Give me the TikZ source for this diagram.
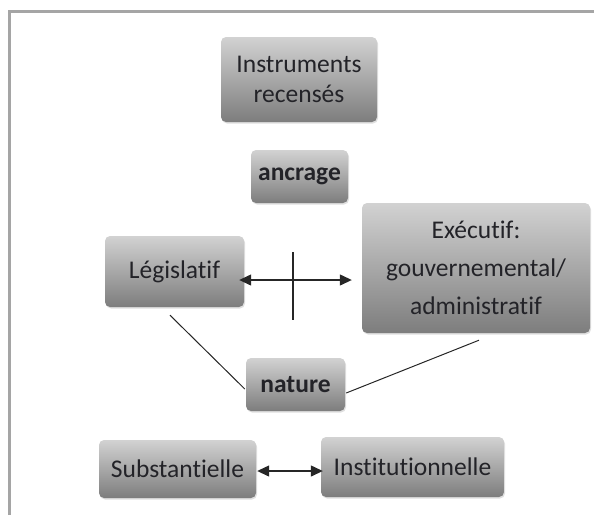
\documentclass[tikz,border=0pt]{standalone}
\usepackage{fontspec}
\setmainfont{Carlito}[RawFeature={-liga}]
\usetikzlibrary{arrows.meta,calc,shadows}
\definecolor{boxtop}{RGB}{210,210,210}
\definecolor{boxbot}{RGB}{125,125,125}
\definecolor{framegray}{RGB}{165,165,165}
\definecolor{txt}{RGB}{35,35,40}
\tikzset{
  gbox/.style={rounded corners=5pt, top color=boxtop, bottom color=boxbot,
    inner sep=0pt, align=center, text=txt, font=\fontsize{25.5}{30}\selectfont,
    drop shadow={shadow xshift=1pt, shadow yshift=-1.5pt, opacity=0.25}},
  conn/.style={line width=1.3pt, black!85},
  dbl/.style={conn, {Triangle[length=12pt,width=11pt]}-{Triangle[length=12pt,width=11pt]}},
}
\begin{document}
\begin{tikzpicture}[x=1pt,y=-1pt]
\useasboundingbox (0,0) rectangle (594,515);
\draw[framegray, line width=3pt] (9,515) coordinate (fb) -- (9,11) coordinate (fc) -- (594,11) coordinate (fr);
\node[gbox, minimum width=156pt, minimum height=85pt] (instr) at (299,79.5) {Instruments\\recensés};
\node[gbox, minimum width=97pt, minimum height=53pt, font=\fontsize{25.5}{30}\selectfont\bfseries] (ancr) at (299.5,176.5) {ancrage};
\node[gbox, minimum width=228pt, minimum height=130pt, font=\fontsize{25.5}{38}\selectfont] (exe) at (476,268) {Exécutif:\\gouvernemental/\\administratif};
\node[gbox, minimum width=139pt, minimum height=71pt] (leg) at (174.5,271.5) {Législatif};
\node[gbox, minimum width=99pt, minimum height=53pt, font=\fontsize{25.5}{30}\selectfont\bfseries] (nat) at (295.5,384.5) {nature};
\node[gbox, minimum width=157pt, minimum height=58pt] (sub) at (177.5,469) {Substantielle};
\node[gbox, minimum width=183pt, minimum height=60pt] (inst) at (412.5,467) {Institutionnelle};
% connectors
\draw[dbl] ($(leg.east)+(-5,8.5)$) -- ($(exe.west)+(-10,12)$);
\coordinate (v1) at (293,252);
\coordinate (v2) at (293,320);
\draw[conn] (v1) -- (v2);
\draw[conn, line width=1pt] ($(leg.south)+(-4.5,8)$) -- ($(nat.west)+(-1,4.5)$);
\draw[conn, line width=1pt] ($(nat.east)+(1,8.5)$) -- ($(exe.south)+(3,7)$);
\draw[dbl] ($(sub.east)+(1,2)$) -- ($(inst.west)+(2,4)$);
\end{tikzpicture}
\end{document}
